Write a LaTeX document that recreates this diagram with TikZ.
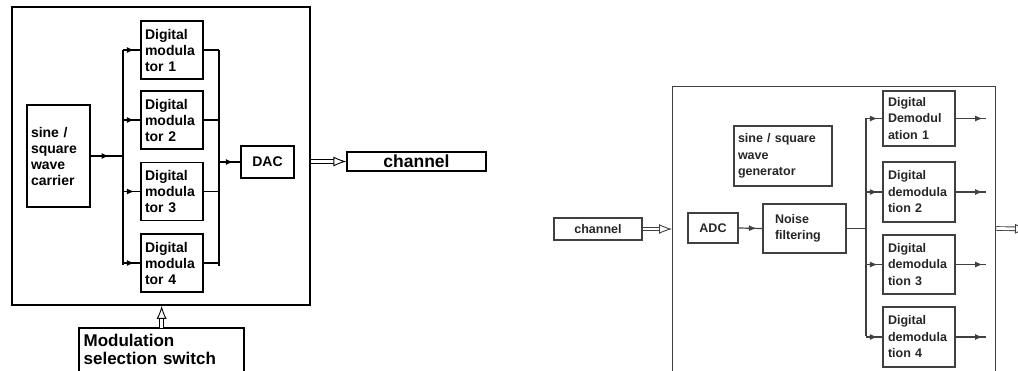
\documentclass[tikz,border=0pt]{standalone}
\usepackage{fontspec}
\setmainfont{Liberation Sans}
\usetikzlibrary{arrows.meta,decorations.markings}

\tikzset{
  blk/.style={draw, line width=1.3pt, inner xsep=4pt, inner ysep=0pt, align=left,
    font=\bfseries\fontsize{14}{16}\selectfont},
  rblk/.style={blk, draw=black!75, text=black!85, line width=1.2pt,
    font=\bfseries\fontsize{12.5}{16.5}\selectfont},
  wire/.style={line width=1.3pt},
  rwire/.style={line width=1.2pt, draw=black!75},
  headon/.style={postaction=decorate, decoration={markings,
    mark=at position #1 with {\arrow{Latex[length=7.5pt,width=6pt]}}}},
  headon/.default=-6pt,
  dbl/.style={double, double distance=2.8pt, line width=0.9pt,
    -{Latex[open, fill=white, length=13pt, width=10pt]}},
}

\begin{document}
\begin{tikzpicture}[x=1pt,y=-1pt]
  \useasboundingbox (0,0) rectangle (1018,370);
  \clip (0,0) rectangle (1018,370);

  % transmitter
  \node[draw, line width=1.6pt, minimum width=298pt, minimum height=298pt] (frameL) at (161,156) {};
  \node[blk, text width=55pt, minimum height=102pt] (carrier) at (58.5,156) {sine /\\square\\wave\\carrier};
  \foreach \i/\y in {1/50,2/120,3/191.5,4/263}
    \node[blk, text width=54pt, minimum height=58pt] (mod\i) at (172,\y) {Digital\\modula\\tor \i};
  \node[blk, minimum width=53pt, minimum height=32pt, align=center] (dac) at (267.5,162) {DAC};
  \node[blk, minimum width=139pt, minimum height=19pt, align=center,
    font=\bfseries\fontsize{17.5}{19}\selectfont] (chanL) at (416.5,161.5) {channel};
  \node[blk, draw=none, anchor=north west, text width=156pt, minimum height=42pt,
    font=\bfseries\fontsize{17}{18}\selectfont] (switch) at (79,328) {Modulation\\selection switch};
  \draw[line width=1.8pt] ([yshift=-10pt]switch.south west) |- (switch.north east) -- ([yshift=-10pt]switch.south east);

  \coordinate (busLtop) at (123,50);
  \coordinate (busLbot) at (123,265);
  \coordinate (busRtop) at (219,50);
  \coordinate (busRbot) at (219,266);

  \draw[wire] (busLtop) -- (busLbot);
  \draw[wire, headon=-14pt] (carrier.east) -- (carrier.east -| busLtop);
  \foreach \i in {1,...,4}
    \draw[wire, headon=-6pt] (mod\i.west -| busLtop) -- (mod\i.west);
  \draw[wire] (busRtop) -- (busRbot);
  \foreach \i in {1,...,4}
    \draw[wire] (mod\i.east) -- (mod\i.east -| busRtop);
  \draw[wire, headon=-7pt] (dac.west -| busRtop) -- (dac.west);
  \draw[dbl] (frameL.east |- chanL) -- (chanL.west);
  \draw[dbl] (switch.north) -- (switch.north |- frameL.south);

  % receiver
  \node[draw=black!75, line width=1.4pt, anchor=north west, minimum width=323pt, minimum height=320pt] (frameR) at (672,86) {};
  \node[rblk, minimum width=88pt, minimum height=22pt, align=center] (chanR) at (598,229) {channel};
  \node[rblk, text width=90pt, minimum height=60pt] (gen) at (783,156) {sine / square\\wave\\generator};
  \node[rblk, minimum width=50pt, minimum height=30pt, align=center] (adc) at (713,228) {ADC};
  \node[rblk, inner xsep=12pt, text width=59pt, minimum height=49pt] (noise) at (804.5,228.5) {Noise\\filtering};
  \node[rblk, inner xsep=5pt, text width=62pt, minimum height=55pt] (dem1) at (919,118.5) {Digital\\Demodul\\ation 1};
  \foreach \i/\y/\h in {2/192/60,3/264.5/59,4/337/60}
    \node[rblk, inner xsep=5pt, text width=62pt, minimum height=\h pt] (dem\i) at (919,\y) {Digital\\demodula\\tion \i};

  \coordinate (busTop) at (866,118);
  \coordinate (busBot) at (866,336);
  \coordinate (sink) at (1028,229);

  \draw[dbl, draw=black!75] (chanR.east) -- (chanR.east -| frameR.west);
  \draw[rwire, headon=-6pt] (adc.east) -- (noise.west);
  \draw[rwire] (noise.east) -- (noise.east -| busTop);
  \draw[rwire] (busTop) -- (busBot);
  \foreach \i in {1,...,4} {
    \coordinate (out\i) at ([xshift=30pt]dem\i.east);
    \draw[rwire, headon=-5pt] (dem\i.west -| busTop) -- (dem\i.west);
    \draw[rwire, headon=-3pt] (dem\i.east) -- (out\i);
  }
  \draw[dbl, draw=black!75] (frameR.east |- noise) -- (sink);
\end{tikzpicture}
\end{document}
